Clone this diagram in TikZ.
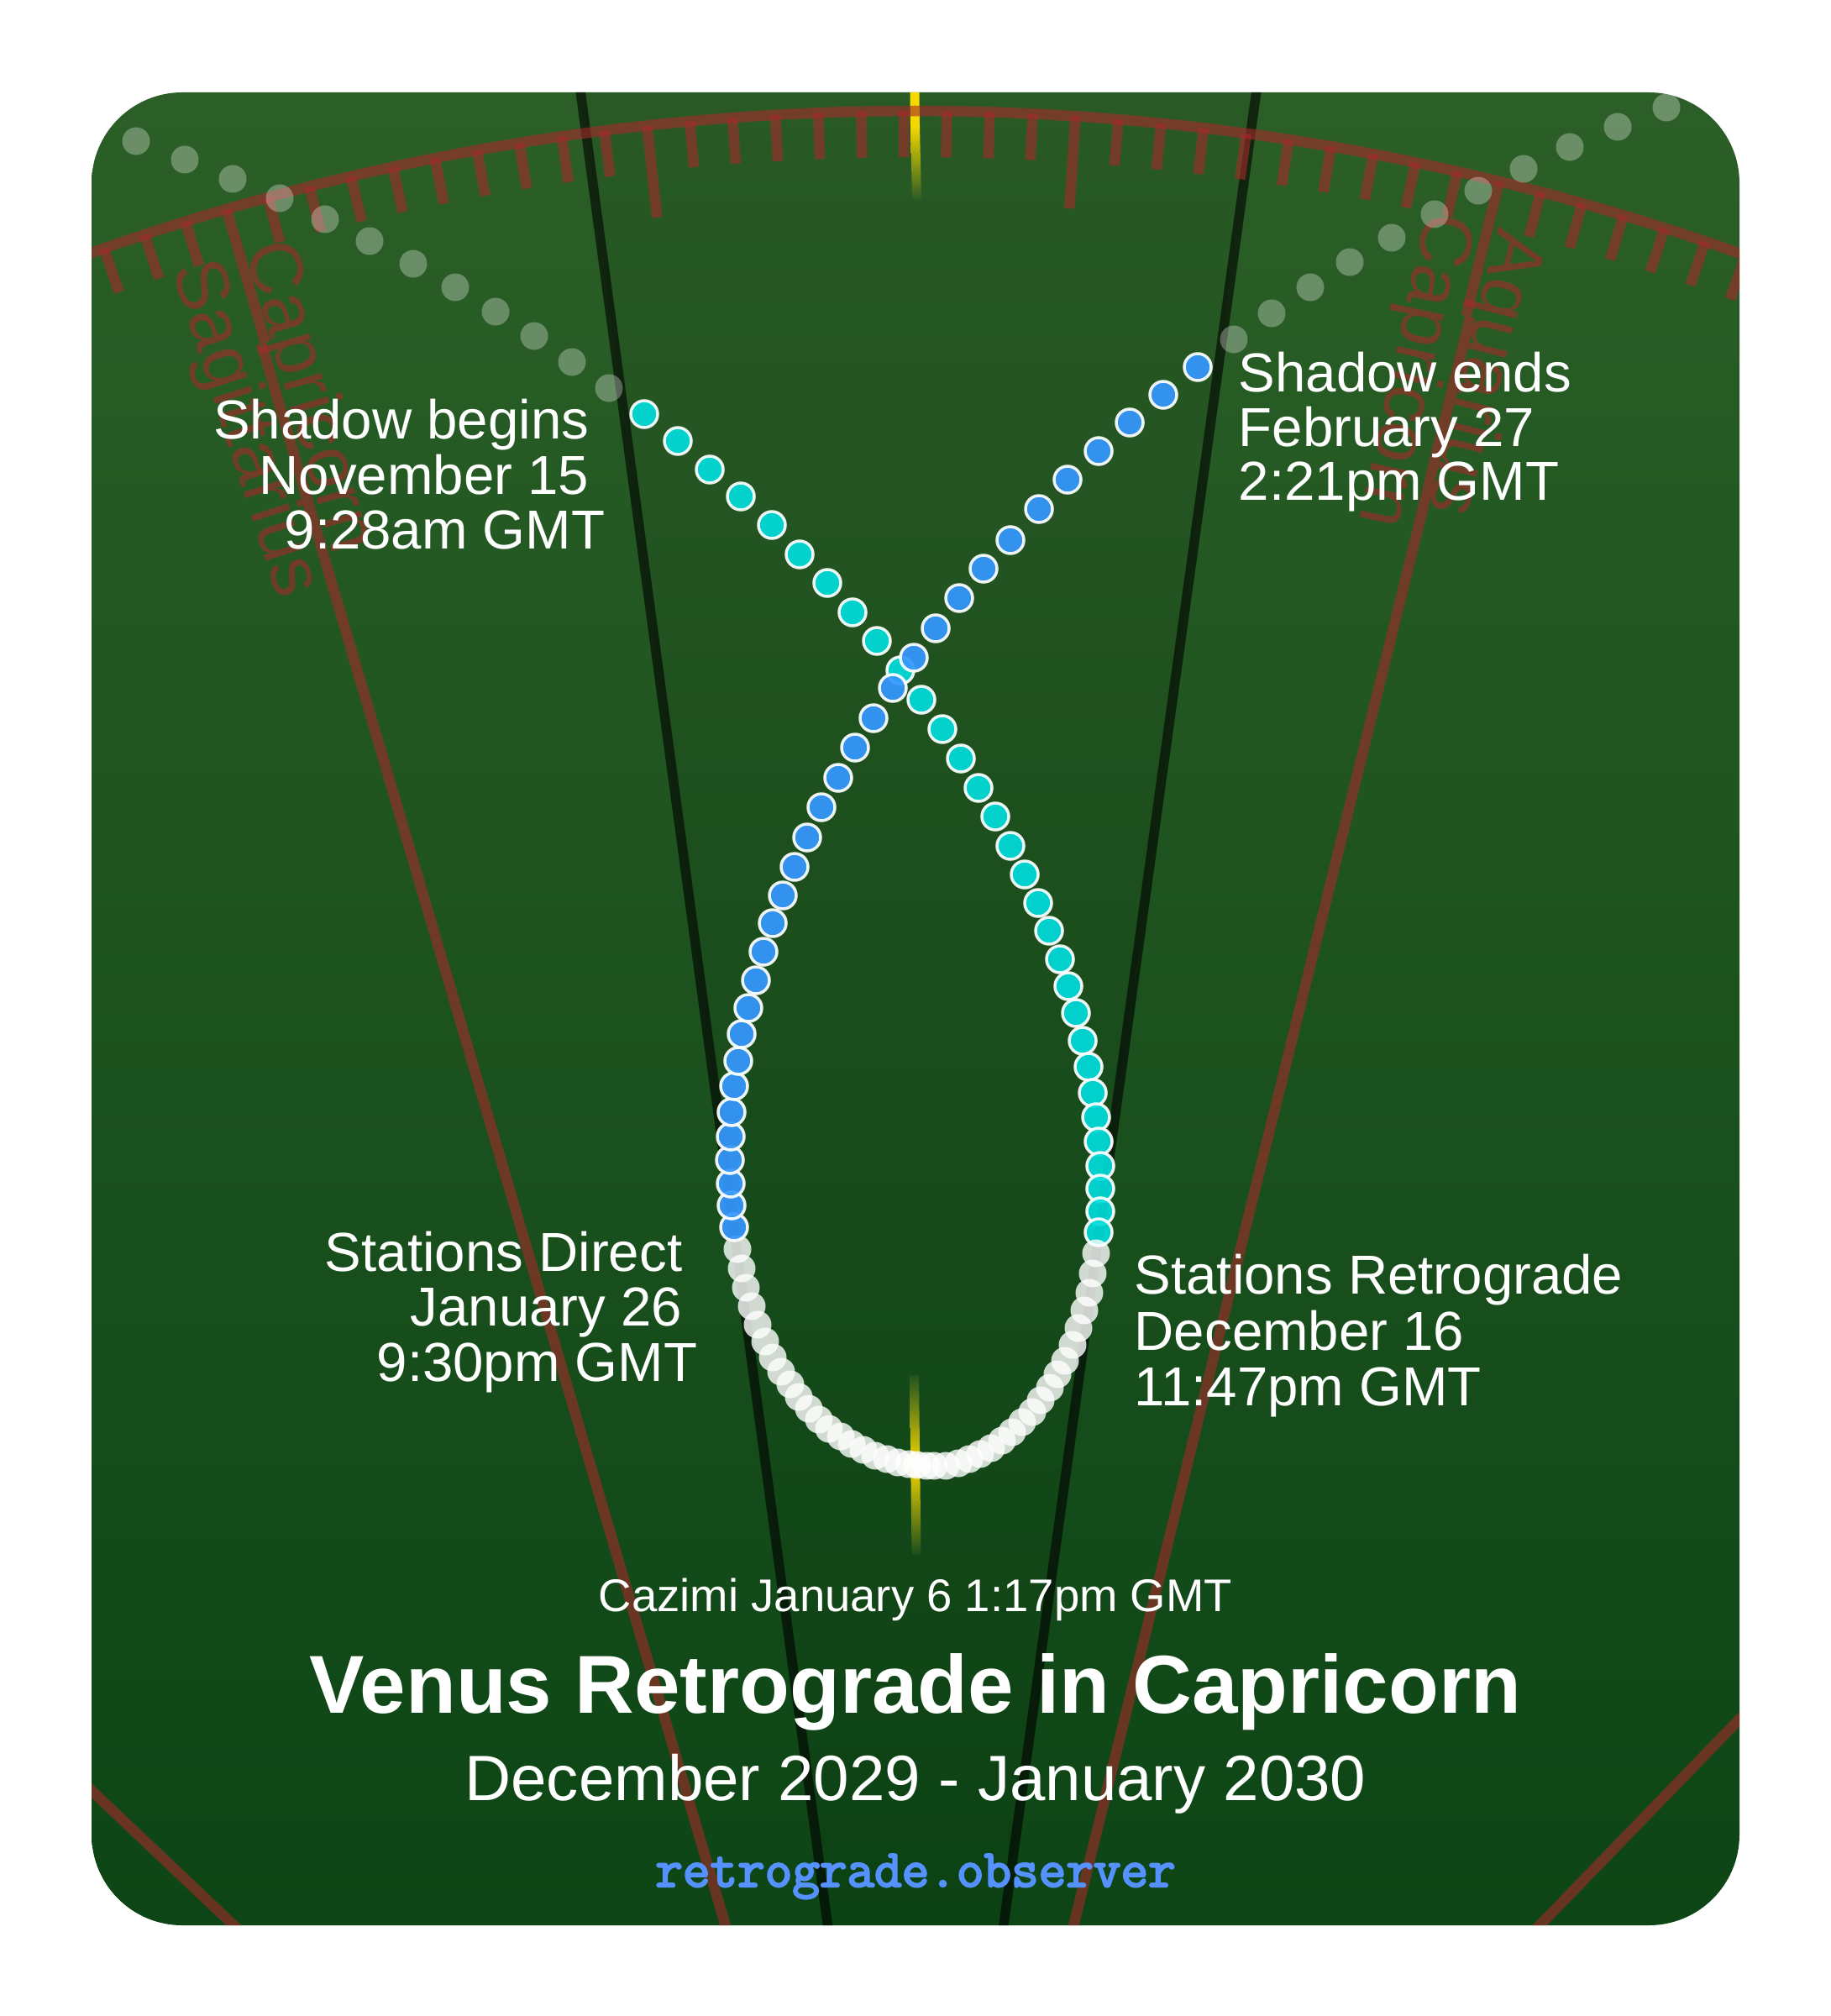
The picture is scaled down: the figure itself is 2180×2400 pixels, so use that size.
\documentclass[tikz,border=0pt]{standalone}
\usepackage{fontspec}
\setmainfont{Liberation Sans}
\newfontfamily\urlfont[FakeBold=3.5]{Latin Modern Mono}
\definecolor{bgtop}{HTML}{2C5F27}
\definecolor{bgbot}{HTML}{0D4516}
\definecolor{zodiac}{HTML}{A52A2A}
\definecolor{sunline}{HTML}{F5D800}
\definecolor{tealdot}{HTML}{00DCDB}
\definecolor{bluedot}{HTML}{3598FF}
\definecolor{urlblue}{HTML}{5591FF}
\tikzset{
  declare function={px(\r,\a)=1089+\r*sin(\a); py(\r,\a)=3060-\r*cos(\a);},
  zodiacline/.style={draw=zodiac, draw opacity=0.6, line width=1.25mm},
  signlabel/.style={text=zodiac, text opacity=0.6, anchor=base west, inner sep=0pt, font=\fontsize{25}{25}\selectfont},
  whitelabel/.style={text=white, inner sep=0pt, font=\fontsize{18.6}{18.6}\selectfont},
  faintdot/.style={fill=white, fill opacity=0.3},
  loopdot/.style={fill=white, fill opacity=0.8},
  shadowdot/.style={draw=white, line width=0.35mm, fill opacity=0.92, draw opacity=0.92},
}
\begin{document}
\begin{tikzpicture}[x=0.01cm,y=-0.01cm]
  \useasboundingbox (0,0) rectangle (2180,2400);
  % Card
  \clip[rounded corners=1.08cm] (109,110) rectangle (2071,2292);
  \shade[top color=bgtop, bottom color=bgbot] (109,110) rectangle (2071,2292);
  % Shadow zone
  \fill[black, opacity=0.05] ({px(3100,-7.68)},{py(3100,-7.68)}) -- (1089,3060) -- ({px(3100,7.85)},{py(3100,7.85)}) -- cycle;
  \draw[black, opacity=0.6, line width=1.15mm] ({px(3100,-7.68)},{py(3100,-7.68)}) -- (1089,3060);
  \draw[black, opacity=0.6, line width=1.15mm] ({px(3100,7.85)},{py(3100,7.85)}) -- (1089,3060);
  % Cazimi marks
  \fill[sunline] (1083.5,110) -- (1094.5,110) -- (1095,150) -- (1084,150) -- cycle;
  \shade[top color=sunline, bottom color=bgtop!95!black] (1084,150) -- (1095,150) -- (1097,238) -- (1086,238) -- cycle;
  \shade[top color=bgbot!30!bgtop!95!black, bottom color=bgbot!55!bgtop!95!black, middle color=sunline] (1083,1637) -- (1094,1637) -- (1096.5,1851) -- (1085.5,1851) -- cycle;
  % Zodiac wheel
  \draw[zodiacline] plot[domain=-30:30, samples=61] ({px(2928,\x)},{py(2928,\x)});
  \foreach \t in {-28,...,32}{
    \pgfmathsetmacro{\a}{\t-1.25}
    \pgfmathsetmacro{\l}{mod(\t+45,10)==0 ? 110 : 55}
    \pgfmathsetmacro{\l}{mod(\t+45,30)==0 ? 165 : \l}
    \draw[zodiacline] ({px(2928,\a)},{py(2928,\a)}) -- ({px(2928-\l,\a)},{py(2928-\l,\a)});
  }
  \foreach \a in {-46.55,-16.35,13.85,44.1}
    \draw[zodiacline] ({px(2763,\a)},{py(2763,\a)}) -- (1089,3060);
  % Sign names
  \node[signlabel, rotate=-73.9] (capleft) at ({px(2877,-16.1)},{py(2877,-16.1)}) {Capricorn};
  \node[signlabel, rotate=-72.1] (sagittarius) at ({px(2880,-17.9)},{py(2880,-17.9)}) {Sagittarius};
  \node[signlabel, rotate=-104] (aquarius) at ({px(2877,14)},{py(2877,14)}) {Aquarius};
  \node[signlabel, rotate=-102.25] (capright) at ({px(2877,12.25)},{py(2877,12.25)}) {Capricorn};
  % Dots before the shadow
  \foreach \x/\y in {162/168,220/190,277/213,333/236,387/261,440/287,492/314,542/342,590/371,636/400,681/431,725/462}
    \fill[faintdot] (\x,\y) circle (16.5);
  % Retrograde, first half
  \foreach \x/\y in {767/493,807/525,845/559,882/591,919/625,952/660,985/694,1015/729,1044/763,1072/798,1097/833,1122/868,1144/903,1165/938,1185/972,1203/1007,1220/1041,1236/1075,1249/1108,1262/1142,1272/1174,1281/1206,1289/1239,1296/1270,1301/1301,1305/1330,1308/1359,1310/1388,1310/1415,1310/1442,1308/1467}
    \filldraw[shadowdot, fill=tealdot] (\x,\y) circle (16);
  % Around the Sun
  \foreach \x/\y in {1305/1492,1301/1516,1297/1539,1291/1560,1284/1581,1277/1601,1268/1620,1259/1636,1250/1652,1239/1667,1229/1681,1217/1693,1205/1705,1193/1715,1180/1724,1167/1731,1154/1737,1141/1742,1126/1745,1112/1745,1103/1745,1092/1744,1082/1743,1069/1741,1056/1737,1042/1733,1028/1726,1014/1719,1001/1710,987/1701,975/1690,963/1677,951/1663,941/1648,930/1633,920/1616,911/1597,902/1577,895/1555,888/1533,883/1510,878/1487}
    \fill[loopdot] (\x,\y) circle (16.5);
  % Direct again
  \foreach \x/\y in {874/1461,871/1435,870/1409,869/1381,870/1353,871/1324,874/1293,879/1263,883/1231,891/1200,900/1167,909/1133,920/1099,932/1066,946/1032,961/997,978/961,998/926,1018/890,1040/855,1063/819,1088/783,1114/748,1142/712,1171/677,1203/643,1237/606,1271/571,1308/537,1345/503,1385/470,1426/437}
    \filldraw[shadowdot, fill=bluedot] (\x,\y) circle (16);
  % Dots after the shadow
  \foreach \x/\y in {1469/404,1514/373,1560/342,1607/312,1657/283,1708/255,1760/227,1814/201,1869/175,1926/151,1984/128}
    \fill[faintdot] (\x,\y) circle (16.5);
  % Event labels
  \node[whitelabel, anchor=base east] (beginA) at (702,522) {Shadow begins};
  \node[whitelabel, anchor=base east] (beginB) at (702,588) {November 15};
  \node[whitelabel, anchor=base east] (beginC) at (721,653) {9:28am GMT};
  \node[whitelabel, anchor=base west] (endA) at (1474,466) {Shadow ends};
  \node[whitelabel, anchor=base west] (endB) at (1474,531) {February 27};
  \node[whitelabel, anchor=base west] (endC) at (1474,595) {2:21pm GMT};
  \node[whitelabel, anchor=base east] (directA) at (813,1513) {Stations Direct};
  \node[whitelabel, anchor=base east] (directB) at (813,1578) {January 26};
  \node[whitelabel, anchor=base east] (directC) at (831,1644) {9:30pm GMT};
  \node[whitelabel, anchor=base west] (retroA) at (1350,1540) {Stations Retrograde};
  \node[whitelabel, anchor=base west] (retroB) at (1350,1607) {December 16};
  \node[whitelabel, anchor=base west] (retroC) at (1350,1673) {11:47pm GMT};
  % Title block
  \node[whitelabel, anchor=base, font=\fontsize{15.5}{15.5}\selectfont] (cazimi) at (1090,1918) {Cazimi January 6 1:17pm GMT};
  \node[whitelabel, anchor=base, font=\fontsize{27.85}{27.85}\selectfont\bfseries] (title) at (1090,2039) {Venus Retrograde in Capricorn};
  \node[whitelabel, anchor=base, font=\fontsize{21.7}{21.7}\selectfont] (dates) at (1090,2143) {December 2029 - January 2030};
  \node[anchor=base, inner sep=0pt, text=urlblue, font=\fontsize{18}{18}\selectfont\urlfont] (url) at (1090,2246) {retrograde.observer};
\end{tikzpicture}
\end{document}
